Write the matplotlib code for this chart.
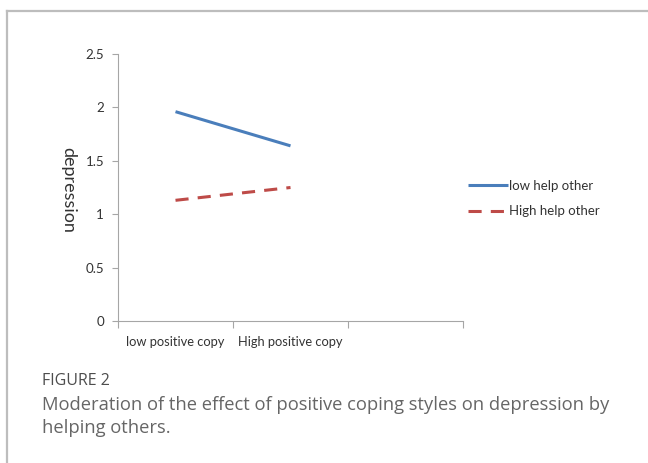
import matplotlib.pyplot as plt
from matplotlib.lines import Line2D

categories = ['low positive copy', 'High positive copy', '']
low_help = [1.96, 1.64]
high_help = [1.13, 1.25]
yticks = [0, 0.5, 1, 1.5, 2, 2.5]
ytick_labels = ['0', '0.5', '1', '1.5', '2', '2.5']

W, H = 648, 463
fig = plt.figure(figsize=(W / 100, H / 100), dpi=100)
plt.rcParams['font.family'] = ['Lato', 'DejaVu Sans']

# frame around the figure panel (right/bottom run off the image)
fig.add_artist(Line2D([7 / W, 7 / W], [0, 1 - 11 / H], transform=fig.transFigure,
                      color='#bdbdbd', lw=1.6))
fig.add_artist(Line2D([7 / W, 1], [1 - 11 / H, 1 - 11 / H], transform=fig.transFigure,
                      color='#bdbdbd', lw=1.6))

ax = fig.add_axes([118 / W, 1 - 321 / H, (463 - 118) / W, (321 - 54) / H])
x = range(len(low_help))
ax.plot(x, low_help, color='#4a7ebb', lw=2.2, label='low help other', solid_capstyle='butt')
ax.plot(x, high_help, color='#be4b48', lw=2.2, ls=(0, (4.3, 3)), label='High help other',
        dash_capstyle='butt')

ax.set_xlim(-0.5, len(categories) - 0.5)
ax.set_ylim(0, 2.5)
ax.set_xticks([i - 0.5 for i in range(len(categories) + 1)], minor=False)
ax.set_xticklabels([])
ax.set_xticks(range(len(categories)), minor=True)
ax.set_xticklabels(categories, minor=True)
ax.tick_params(axis='x', which='minor', length=0, pad=11, labelsize=9.3, labelcolor='#333333')
ax.tick_params(axis='x', which='major', length=5, color='#a6a6a6', width=0.8)
ax.set_yticks(yticks)
ax.set_yticklabels(ytick_labels)
ax.tick_params(axis='y', length=4, color='#a6a6a6', width=0.8, labelsize=9.6,
               labelcolor='#333333', pad=6)
for s in ['top', 'right']:
    ax.spines[s].set_visible(False)
for s in ['left', 'bottom']:
    ax.spines[s].set_color('#a6a6a6')
    ax.spines[s].set_linewidth(0.8)

ax.set_ylabel('depression', rotation=-90, fontsize=13, color='#333333', va='center')
ax.yaxis.set_label_coords(-0.145, 0.49)

ax.legend(loc='center left', bbox_to_anchor=(1.0145, 0.459), frameon=False, fontsize=9.5,
          handlelength=3.0, handletextpad=0.1, labelspacing=1.05, labelcolor='#333333',
          borderpad=0, borderaxespad=0)

fig.text(42 / W, 1 - 381 / H, 'FIGURE 2', fontsize=11.5, color='#4d4d4d', va='center',
         family=['Open Sans', 'DejaVu Sans'])
fig.text(42 / W, 1 - 405 / H, 'Moderation of the effect of positive coping styles on depression by',
         fontsize=13.2, color='#666666', va='center', family=['Open Sans', 'DejaVu Sans'])
fig.text(42 / W, 1 - 428 / H, 'helping others.', fontsize=13.2, color='#666666', va='center',
         family=['Open Sans', 'DejaVu Sans'])

fig.savefig('out.png', dpi=100)
